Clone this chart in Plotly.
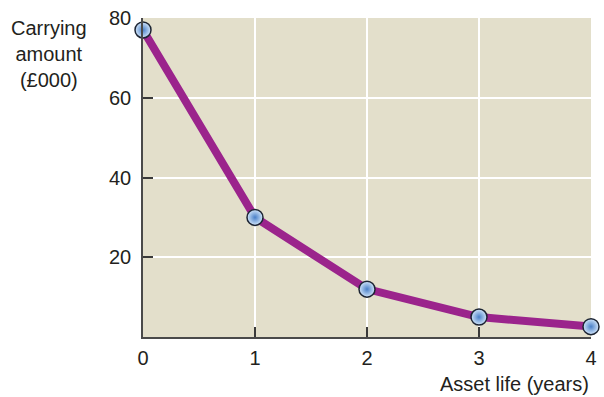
import plotly.graph_objects as go

# Asset carrying amount over its life
years = [0, 1, 2, 3, 4]
carrying_amount = [77, 30, 12, 5, 2.6]
x_ticks = [0, 1, 2, 3, 4]
y_ticks = [20, 40, 60, 80]

FONT = "Liberation Sans, Arial, Helvetica, sans-serif"
TEXT = "#231f20"

fig = go.Figure()
fig.add_trace(go.Scatter(
    x=years, y=carrying_amount,
    mode="lines+markers",
    line=dict(color="#9b248c", width=8),
    marker=dict(
        size=16,
        color="#d2e6fb",
        gradient=dict(type="radial", color="#4a80c8"),
        line=dict(color="#1c2433", width=1.5),
    ),
    cliponaxis=False,
    showlegend=False,
    hoverinfo="skip",
))

fig.update_layout(
    width=604, height=397,
    margin=dict(l=143, r=7, t=18, b=60),
    paper_bgcolor="white",
    plot_bgcolor="#e3dfcb",
    font=dict(family=FONT, size=20, color=TEXT),
    xaxis=dict(
        range=[0, 4], tickvals=x_ticks, ticks="inside", ticklen=10,
        tickcolor="#3a3a3a", tickwidth=1.5,
        showline=True, linecolor="#4a4a4a", linewidth=1.5,
        showgrid=True, gridcolor="white", gridwidth=1.5,
        zeroline=False, tickfont=dict(size=20), ticklabelstandoff=2,
    ),
    yaxis=dict(
        range=[0, 80], tickvals=y_ticks, ticks="inside", ticklen=10,
        tickcolor="#3a3a3a", tickwidth=1.5,
        showline=True, linecolor="#4a4a4a", linewidth=1.5,
        showgrid=True, gridcolor="white", gridwidth=1.5,
        zeroline=False, tickfont=dict(size=20), ticklabelstandoff=6,
    ),
    annotations=[
        dict(text="Carrying<br>amount<br>(£000)", xref="paper", yref="paper",
             x=-0.209, y=0.887, xanchor="center", yanchor="middle", showarrow=False,
             align="center", font=dict(size=20, color=TEXT)),
        dict(text="Asset life (years)", xref="paper", yref="paper",
             x=1.0, y=-0.147, xanchor="right", yanchor="middle", showarrow=False,
             font=dict(size=20, color=TEXT)),
    ],
)

fig.write_html("out.html")
